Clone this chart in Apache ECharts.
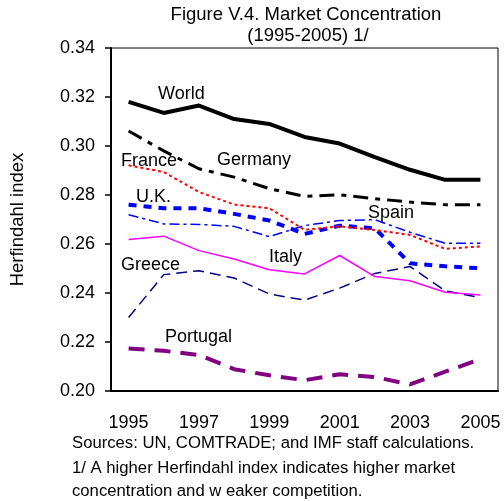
<!DOCTYPE html>
<html>
<head>
<meta charset="utf-8">
<style>
  html, body { margin: 0; padding: 0; background: #fff; }
  #chart { width: 504px; height: 501px; }
</style>
<script src="https://cdn.jsdelivr.net/npm/echarts@6/dist/echarts.min.js"></script>
</head>
<body>
<div id="chart"></div>
<script>
// Herfindahl index of export market concentration, 1995-2005
const years = ['1995','1996','1997','1998','1999','2000','2001','2002','2003','2004','2005'];
const world    = [0.318, 0.3135, 0.3165, 0.311, 0.309, 0.3037, 0.301, 0.2955, 0.2903, 0.2862, 0.2862];
const germany  = [0.3061, 0.298, 0.2907, 0.2873, 0.2826, 0.2794, 0.2801, 0.2785, 0.2771, 0.276, 0.276];
const france   = [0.2921, 0.2894, 0.2812, 0.2761, 0.2746, 0.2658, 0.2672, 0.2657, 0.2637, 0.258, 0.259];
const uk       = [0.276, 0.2746, 0.2746, 0.2723, 0.2696, 0.2641, 0.2675, 0.2664, 0.2521, 0.2509, 0.2501];
const spain    = [0.2719, 0.2682, 0.268, 0.2672, 0.263, 0.2675, 0.2696, 0.2699, 0.2648, 0.2603, 0.2603];
const italy    = [0.2618, 0.2632, 0.2573, 0.2539, 0.2495, 0.2478, 0.2553, 0.2467, 0.245, 0.2403, 0.2392];
const greece   = [0.230, 0.2475, 0.2491, 0.2461, 0.2396, 0.2371, 0.242, 0.248, 0.2508, 0.2409, 0.2381];
const portugal = [0.2173, 0.2164, 0.2147, 0.2089, 0.2064, 0.2044, 0.2068, 0.2057, 0.2027, 0.2079, 0.213];
const yTicks = [0.20, 0.22, 0.24, 0.26, 0.28, 0.30, 0.32, 0.34];

const font = 'Liberation Sans, Arial, sans-serif';

function line(name, data, color, width, dash) {
  return {
    name: name, type: 'line', data: data, symbol: 'none', silent: true,
    lineStyle: { color: color, width: width, type: dash, cap: 'butt' }
  };
}

// text placed by its left edge and baseline
function tag(text, x, baseline, size, align) {
  return { type: 'text', x: x, y: baseline - 0.35 * size,
    style: { text: text, font: size + 'px ' + font, fill: '#000',
             align: align || 'left', verticalAlign: 'middle' } };
}

const chart = echarts.init(document.getElementById('chart'));
chart.setOption({
  animation: false,
  backgroundColor: '#fff',
  grid: { left: 110, right: 6, top: 48, bottom: 110, show: true,
          borderColor: '#000', borderWidth: 1 },
  xAxis: {
    type: 'category', data: years, boundaryGap: true,
    axisLine: { lineStyle: { color: '#000', width: 2 } },
    axisTick: { inside: true, length: 6, lineStyle: { color: '#000', width: 1.5 } },
    axisLabel: { interval: 1, color: '#000', fontSize: 18, fontFamily: font, margin: 23 },
    splitLine: { show: false }
  },
  yAxis: {
    type: 'value', min: yTicks[0], max: yTicks[yTicks.length - 1], interval: 0.02,
    name: 'Herfindahl index', nameLocation: 'middle', nameGap: 84, nameRotate: 90,
    nameTextStyle: { color: '#000', fontSize: 18.5, fontFamily: font },
    axisLine: { show: true, lineStyle: { color: '#000', width: 2 } },
    axisTick: { show: true, length: 6, lineStyle: { color: '#000', width: 1.5 } },
    axisLabel: { color: '#000', fontSize: 18, fontFamily: font, margin: 16,
                 formatter: v => v.toFixed(2) },
    splitLine: { show: false }
  },
  series: [
    line('Portugal', portugal, '#800080', 4, [16, 10]),
    line('Greece', greece, '#000080', 1.5, [11, 6]),
    line('Italy', italy, '#ff00ff', 1.5, 'solid'),
    line('Spain', spain, '#0000ff', 1.5, [10, 4, 3, 4]),
    line('U.K.', uk, '#0000ff', 4, [8, 7]),
    line('France', france, '#ff0000', 2, [3, 3]),
    line('Germany', germany, '#000', 3, [15, 7, 5, 7]),
    line('World', world, '#000', 4, 'solid')
  ],
  graphic: [
    tag('Figure V.4. Market Concentration', 306, 21, 18.5, 'center'),
    tag('(1995-2005) 1/', 308, 42, 18.5, 'center'),
    tag('World', 158, 100, 18),
    tag('Germany', 217, 166, 18),
    tag('France', 121, 167, 18),
    tag('U.K.', 136, 203, 18),
    tag('Spain', 368, 219, 18),
    tag('Italy', 269, 263, 18),
    tag('Greece', 121, 271, 18),
    tag('Portugal', 165, 343, 18),
    tag('Sources: UN, COMTRADE; and IMF staff calculations.', 72, 449.5, 16.7),
    tag('1/ A higher Herfindahl index indicates higher market', 72, 474, 16.7),
    tag('concentration and w eaker competition.', 72, 497, 16.7)
  ]
});
</script>
</body>
</html>
